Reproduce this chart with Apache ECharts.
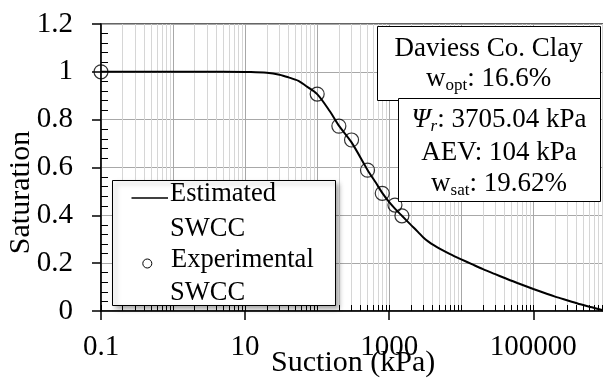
<!DOCTYPE html>
<html>
<head>
<meta charset="utf-8">
<script src="https://cdn.jsdelivr.net/npm/echarts@6/dist/echarts.min.js"></script>
<style>
  html, body { margin: 0; padding: 0; background: #fff; }
  #chart { width: 603px; height: 381px; }
</style>
</head>
<body>
<div id="chart"></div>
<script>
// Soil-water characteristic curve (SWCC) for Daviess Co. Clay

// Estimated SWCC: suction (kPa) and degree of saturation
const suctionCurve = [0.1, 1, 5, 12, 20, 30, 40, 55, 70, 100, 150, 200, 300, 500, 650, 800,
  1000, 1200, 1500, 2000, 2500, 3000, 3500, 4200, 5000, 7000, 10000, 14000, 20000, 29000,
  40000, 60000, 100000, 150000, 200000, 300000, 450000, 650000, 850000, 1000000];
const saturationCurve = [1, 1, 1, 0.999, 0.996, 0.988, 0.977, 0.962, 0.941, 0.907, 0.835, 0.775,
  0.705, 0.59, 0.537, 0.494, 0.455, 0.428, 0.398, 0.36, 0.331, 0.306, 0.29, 0.274, 0.261,
  0.238, 0.216, 0.196, 0.175, 0.155, 0.138, 0.117, 0.092, 0.073, 0.06, 0.044, 0.028, 0.0155, 0.006, 0];

// Experimental SWCC points
const suctionTest = [0.1, 100, 200, 300, 500, 800, 1200, 1500];
const saturationTest = [1, 0.907, 0.773, 0.715, 0.589, 0.492, 0.443, 0.398];

// Labelled suction ticks and axis ranges
const xLabelValues = [0.1, 10, 1000, 100000];
const xRange = [0.1, 1000000];
const yRange = [0, 1.2];
const yStep = 0.2;

// Soil properties shown in the boxes
const soilName = 'Daviess Co. Clay';
const wOpt = '16.6%';
const psiR = '3705.04 kPa';
const aev = '104 kPa';
const wSat = '19.62%';

const legendNames = [['Estimated', 'SWCC'], ['Experimental', 'SWCC']];

// Decade and in-between (2..9) positions for the log grid
const decades = [];
const minors = [];
for (let e = -1; e <= 6; e++) {
  decades.push(+Math.pow(10, e).toPrecision(6));
  if (e < 6) for (let d = 2; d <= 9; d++) minors.push(+(d * Math.pow(10, e)).toPrecision(6));
}

const FONT = '"Liberation Serif", "Times New Roman", serif';
const fmtNum = v => String(+Number(v).toPrecision(6));

const chart = echarts.init(document.getElementById('chart'));

const logAxisBase = {
  type: 'log', logBase: 10, min: xRange[0], max: xRange[1], position: 'bottom',
  axisLine: { show: false, onZero: false }, axisLabel: { show: false },
  splitLine: { show: false }, minorTick: { show: false }
};

const annText = (x, y, text, align, extra) => Object.assign({
  type: 'text', x: x, y: y, z: 120,
  style: Object.assign({
    text: text, fill: '#000', fontSize: 27, fontFamily: FONT,
    align: align, textAlign: align, verticalAlign: 'middle', textVerticalAlign: 'middle'
  }, extra || {})
});

const richStyles = {
  m: { fontSize: 27, fontFamily: FONT, lineHeight: 30, verticalAlign: 'middle', fill: '#000' },
  s: { fontSize: 17, fontFamily: FONT, lineHeight: 12, verticalAlign: 'bottom', fill: '#000' },
  mi: { fontSize: 27, fontFamily: FONT, fontStyle: 'italic', lineHeight: 30, verticalAlign: 'middle', fill: '#000' },
  si: { fontSize: 17, fontFamily: FONT, fontStyle: 'italic', lineHeight: 12, verticalAlign: 'bottom', fill: '#000' }
};

chart.setOption({
  animation: false,
  backgroundColor: '#fff',
  grid: {
    left: 101, top: 24, right: -2.4, bottom: 70,
    containLabel: false, outerBoundsMode: 'none',
    show: true, borderColor: '#333', borderWidth: 1.5, backgroundColor: 'transparent'
  },
  xAxis: [
    Object.assign({}, logAxisBase, {
      axisLine: { show: true, onZero: false, lineStyle: { color: '#000', width: 1.5 } },
      axisTick: { show: true, length: 9, customValues: xLabelValues, lineStyle: { color: '#000', width: 1.5 } },
      axisLabel: {
        show: true, customValues: xLabelValues, margin: 22, fontSize: 29, fontFamily: FONT,
        color: '#000', formatter: fmtNum
      },
      name: 'Suction (kPa)', nameLocation: 'middle', nameGap: 37, nameMoveOverlap: false,
      nameTextStyle: { fontSize: 30, fontFamily: FONT, color: '#000' }
    }),
    Object.assign({}, logAxisBase, {
      axisTick: { show: true, inside: true, length: 6, customValues: minors, lineStyle: { color: '#000', width: 1 } },
      splitLine: { show: true, lineStyle: { color: '#d6d6d6', width: 1 } }
    }),
    Object.assign({}, logAxisBase, {
      axisTick: { show: true, inside: true, length: 6, customValues: decades, lineStyle: { color: '#000', width: 1 } },
      splitLine: { show: true, lineStyle: { color: '#a8a8a8', width: 1 } }
    })
  ],
  yAxis: [
    {
      type: 'value', min: yRange[0], max: yRange[1], interval: yStep, position: 'left',
      axisLine: { show: true, onZero: false, lineStyle: { color: '#000', width: 1.5 } },
      axisTick: { show: true, length: 9, lineStyle: { color: '#000', width: 1.5 } },
      axisLabel: { margin: 28, fontSize: 29, fontFamily: FONT, color: '#000' },
      splitLine: { show: true, lineStyle: { color: '#a8a8a8', width: 1 } },
      name: 'Saturation', nameLocation: 'middle', nameGap: 65, nameMoveOverlap: false,
      nameTextStyle: { fontSize: 30, fontFamily: FONT, color: '#000', padding: [0, 50, 0, 0] }
    },
    {
      type: 'value', min: yRange[0], max: yRange[1], interval: yStep, position: 'left',
      axisLine: { show: false, onZero: false }, axisLabel: { show: false },
      splitLine: { show: false },
      axisTick: { show: false, inside: true },
      minorTick: { show: true, splitNumber: 5, length: 7, lineStyle: { color: '#000', width: 1 } }
    }
  ],
  series: [
    {
      name: 'Estimated SWCC', type: 'line', xAxisIndex: 0, yAxisIndex: 0,
      data: suctionCurve.map((s, i) => [s, saturationCurve[i]]),
      showSymbol: false, smooth: 0.3, clip: false,
      lineStyle: { color: '#000', width: 2 }, z: 5
    },
    {
      name: 'Experimental SWCC', type: 'scatter', xAxisIndex: 0, yAxisIndex: 0,
      data: suctionTest.map((s, i) => [s, saturationTest[i]]),
      symbol: 'circle', symbolSize: 14, clip: false,
      itemStyle: { color: 'rgba(0,0,0,0)', borderColor: '#000', borderWidth: 1.2 }, z: 6
    }
  ],
  graphic: [
    // legend box
    { type: 'rect', z: 100, shape: { x: 112.5, y: 180.5, width: 223, height: 125 },
      style: { fill: '#fff', stroke: '#000', lineWidth: 1, shadowBlur: 5, shadowOffsetX: 3, shadowOffsetY: 3, shadowColor: 'rgba(0,0,0,0.35)' } },
    { type: 'line', z: 110, shape: { x1: 131.5, y1: 198, x2: 168, y2: 198 }, style: { stroke: '#000', lineWidth: 1.5 } },
    { type: 'circle', z: 110, shape: { cx: 147.3, cy: 263.5, r: 4.5 }, style: { fill: 'none', stroke: '#000', lineWidth: 1 } },
    annText(170, 194.4, legendNames[0][0], 'left', { fontSize: 26.5 }),
    annText(170, 228.8, legendNames[0][1], 'left', { fontSize: 26.5 }),
    annText(171, 260.4, legendNames[1][0], 'left', { fontSize: 26.5 }),
    annText(170, 293.4, legendNames[1][1], 'left', { fontSize: 26.5 }),

    // soil box 1
    { type: 'rect', z: 100, shape: { x: 377.5, y: 26.5, width: 223, height: 74 },
      style: { fill: '#fff', stroke: '#000', lineWidth: 1 } },
    annText(488.6, 49.4, soilName, 'center'),
    annText(488.6, 79.4, '{m|w}{s|opt}{m|: ' + wOpt + '}', 'center', { rich: richStyles }),

    // soil box 2
    { type: 'rect', z: 101, shape: { x: 398.5, y: 98.5, width: 202, height: 103 },
      style: { fill: '#fff', stroke: '#000', lineWidth: 1 } },
    annText(499, 120.3, '{mi|\u03A8}{si|r}{m|: ' + psiR + '}', 'center', { rich: richStyles }),
    annText(499, 152.6, 'AEV: ' + aev, 'center'),
    annText(499, 184.2, '{m|w}{s|sat}{m|: ' + wSat + '}', 'center', { rich: richStyles })
  ]
});
</script>
</body>
</html>
